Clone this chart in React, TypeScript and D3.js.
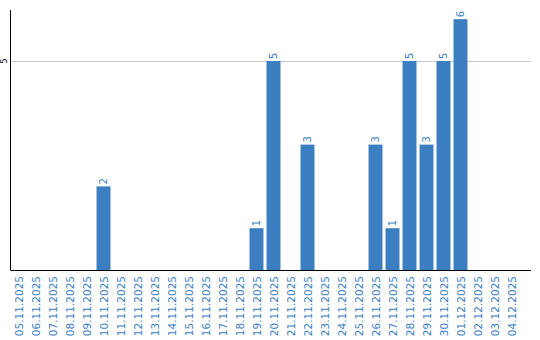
import React from "react";
import * as d3 from "d3";

const categories = [
  "05.11.2025","06.11.2025","07.11.2025","08.11.2025","09.11.2025","10.11.2025",
  "11.11.2025","12.11.2025","13.11.2025","14.11.2025","15.11.2025","16.11.2025",
  "17.11.2025","18.11.2025","19.11.2025","20.11.2025","21.11.2025","22.11.2025",
  "23.11.2025","24.11.2025","25.11.2025","26.11.2025","27.11.2025","28.11.2025",
  "29.11.2025","30.11.2025","01.12.2025","02.12.2025","03.12.2025","04.12.2025",
];
const values = [0,0,0,0,0,2,0,0,0,0,0,0,0,0,1,5,0,3,0,0,0,3,1,5,3,5,6,0,0,0];
const yTicks = [5];

const W = 540, H = 340;
const left = 10.5, right = 531, top = 10, bottom = 270;
const blue = "#3b7ec2";

export default function App() {
  const x = d3.scaleBand<string>().domain(categories).range([10, 520]).paddingInner(0.18).paddingOuter(0.09);
  const y = d3.scaleLinear().domain([0, 6.22]).range([bottom, top]);
  return (
    <svg width={W} height={H} style={{ position: "absolute", left: 0, top: 0 }}
      fontFamily="DejaVu Sans, sans-serif">
      {yTicks.map((t) => (
        <g key={t}>
          <line x1={left} x2={right} y1={Math.round(y(t)) + 0.5} y2={Math.round(y(t)) + 0.5} stroke="#cccccc" />
          <text transform={`translate(7,${y(t)}) rotate(-90)`} textAnchor="middle" fontSize={8} fill="#000">{t}</text>
        </g>
      ))}
      {categories.map((c, i) => {
        const v = values[i];
        if (!v) return null;
        const bx = x(c)!;
        const bw = x.bandwidth();
        const cx = bx + bw / 2;
        return (
          <g key={c}>
            <rect x={bx} y={y(v)} width={bw} height={bottom - y(v)} fill={blue} />
            <text transform={`translate(${cx + 3.5},${y(v) - 2}) rotate(-90)`} fontSize={10} fill={blue}>{v}</text>
          </g>
        );
      })}
      <line x1={left} x2={left} y1={top} y2={bottom} stroke="#000" />
      <line x1={left} x2={right} y1={bottom + 0.5} y2={bottom + 0.5} stroke="#000" />
      {categories.map((c) => {
        const cx = x(c)! + x.bandwidth() / 2;
        return (
          <text key={"l" + c} transform={`translate(${cx + 4},${bottom + 6}) rotate(-90)`} textAnchor="end"
            fontSize={10.5} fill={blue}>{c}</text>
        );
      })}
    </svg>
  );
}
